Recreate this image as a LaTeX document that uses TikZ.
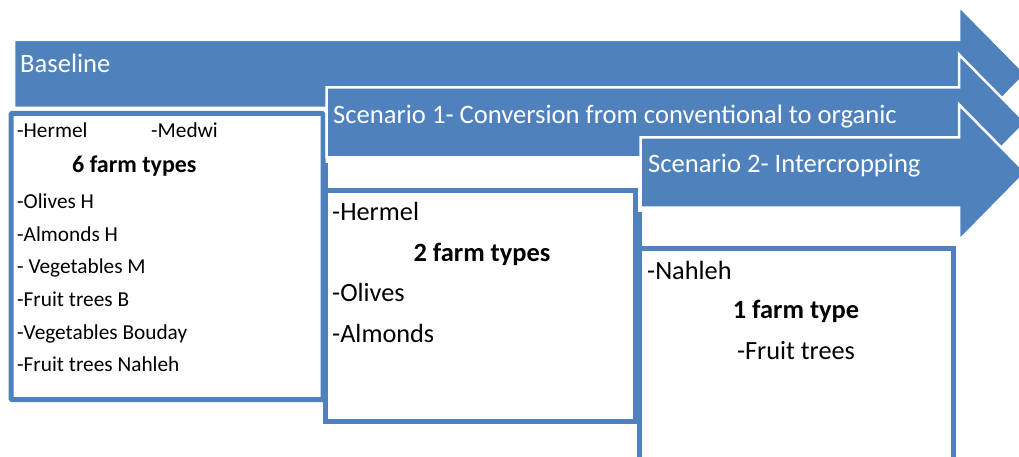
\documentclass[tikz,border=0pt]{standalone}
\usepackage{fontspec}
\setmainfont{Carlito}
\definecolor{ob}{HTML}{4F81BD}
\tikzset{
  bigarrow/.style={fill=ob, draw=white, line width=2.5pt, line join=miter},
  boxline/.style={draw=ob, line width=5pt},
  arrowtext/.style={text=white, inner sep=0pt, anchor=base west, font=\fontsize{26.6}{26.6}\selectfont},
  smalltext/.style={inner sep=0pt, anchor=base west, font=\fontsize{21.3}{21.3}\selectfont},
  smallbold/.style={inner sep=0pt, anchor=base west, font=\fontsize{24}{24}\selectfont\bfseries},
  bigtext/.style={inner sep=0pt, anchor=base west, font=\fontsize{26.3}{26.3}\selectfont},
  bigbold/.style={inner sep=0pt, anchor=base, font=\fontsize{26.4}{26.4}\selectfont\bfseries},
  bigcentre/.style={inner sep=0pt, anchor=base, font=\fontsize{26.3}{26.3}\selectfont},
}
\begin{document}
\begin{tikzpicture}[x=1pt,y=-1pt]
\useasboundingbox (0,0) rectangle (1019,457);
\begin{scope}
\clip (0,0) rectangle (1019,457);
% Arrow 1 (Baseline)
\draw[bigarrow] (14,40) -- (959,40) -- (959,6) -- (1026,74) -- (959,142) -- (959,108) -- (14,108) -- cycle;
\node[arrowtext] (base) at (20,73) {Baseline};
% Box 1
\draw[boxline, fill=white, rounded corners=1pt] (11,113.5) rectangle (323,399.5);
\node[smalltext] (h1) at (17,138) {-Hermel};
\node[smalltext] (m1) at (151,138) {-Medwi};
\node[smallbold] (t1) at (72,173) {6 farm types};
\node[smalltext] (o1) at (17,208) {-Olives H};
\node[smalltext] (a1) at (17,241) {-Almonds H};
\node[smalltext] (v1) at (17,273) {- Vegetables M};
\node[smalltext] (f1) at (17,306) {-Fruit trees B};
\node[smalltext] (vb1) at (17,339) {-Vegetables Bouday};
\node[smalltext] (fn1) at (17,371) {-Fruit trees Nahleh};
% Arrow 2 (Scenario 1)
\draw[bigarrow] (326.5,87.5) -- (959,87.5) -- (959,54.5) -- (1026,122.5) -- (959,190.5) -- (959,157.5) -- (326.5,157.5) -- cycle;
\node[arrowtext] (s1) at (333,123.3) {Scenario 1- Conversion from conventional to organic};
% Box 2
\fill[white] (325,190.5) rectangle (635.5,421.5);
\draw[boxline] (325,163) -- (325,421.5) -- (635.5,421.5) -- (635.5,190.5) -- (325,190.5);
\node[bigtext] (h2) at (332,220.7) {-Hermel};
\node[bigbold] (t2) at (482,261.7) {2 farm types};
\node[bigtext] (o2) at (332,301.7) {-Olives};
\node[bigtext] (a2) at (332,342.7) {-Almonds};
% Arrow 3 (Scenario 2)
\draw[bigarrow] (640.5,137.5) -- (959,137.5) -- (959,104.5) -- (1026,172.5) -- (959,240.5) -- (959,207.5) -- (640.5,207.5) -- cycle;
\node[arrowtext] (s2) at (648,172.7) {Scenario 2- Intercropping};
% Box 3
\fill[white] (639,248.5) rectangle (953.5,459);
\draw[boxline] (639,212) -- (639,459.5) -- (953.5,459.5) -- (953.5,248.5) -- (639,248.5);
\node[bigtext] (n3) at (647,279) {-Nahleh};
\node[bigbold] (t3) at (796,318) {1 farm type};
\node[bigcentre] (f3) at (796,359) {-Fruit trees};
\end{scope}
\end{tikzpicture}
\end{document}
